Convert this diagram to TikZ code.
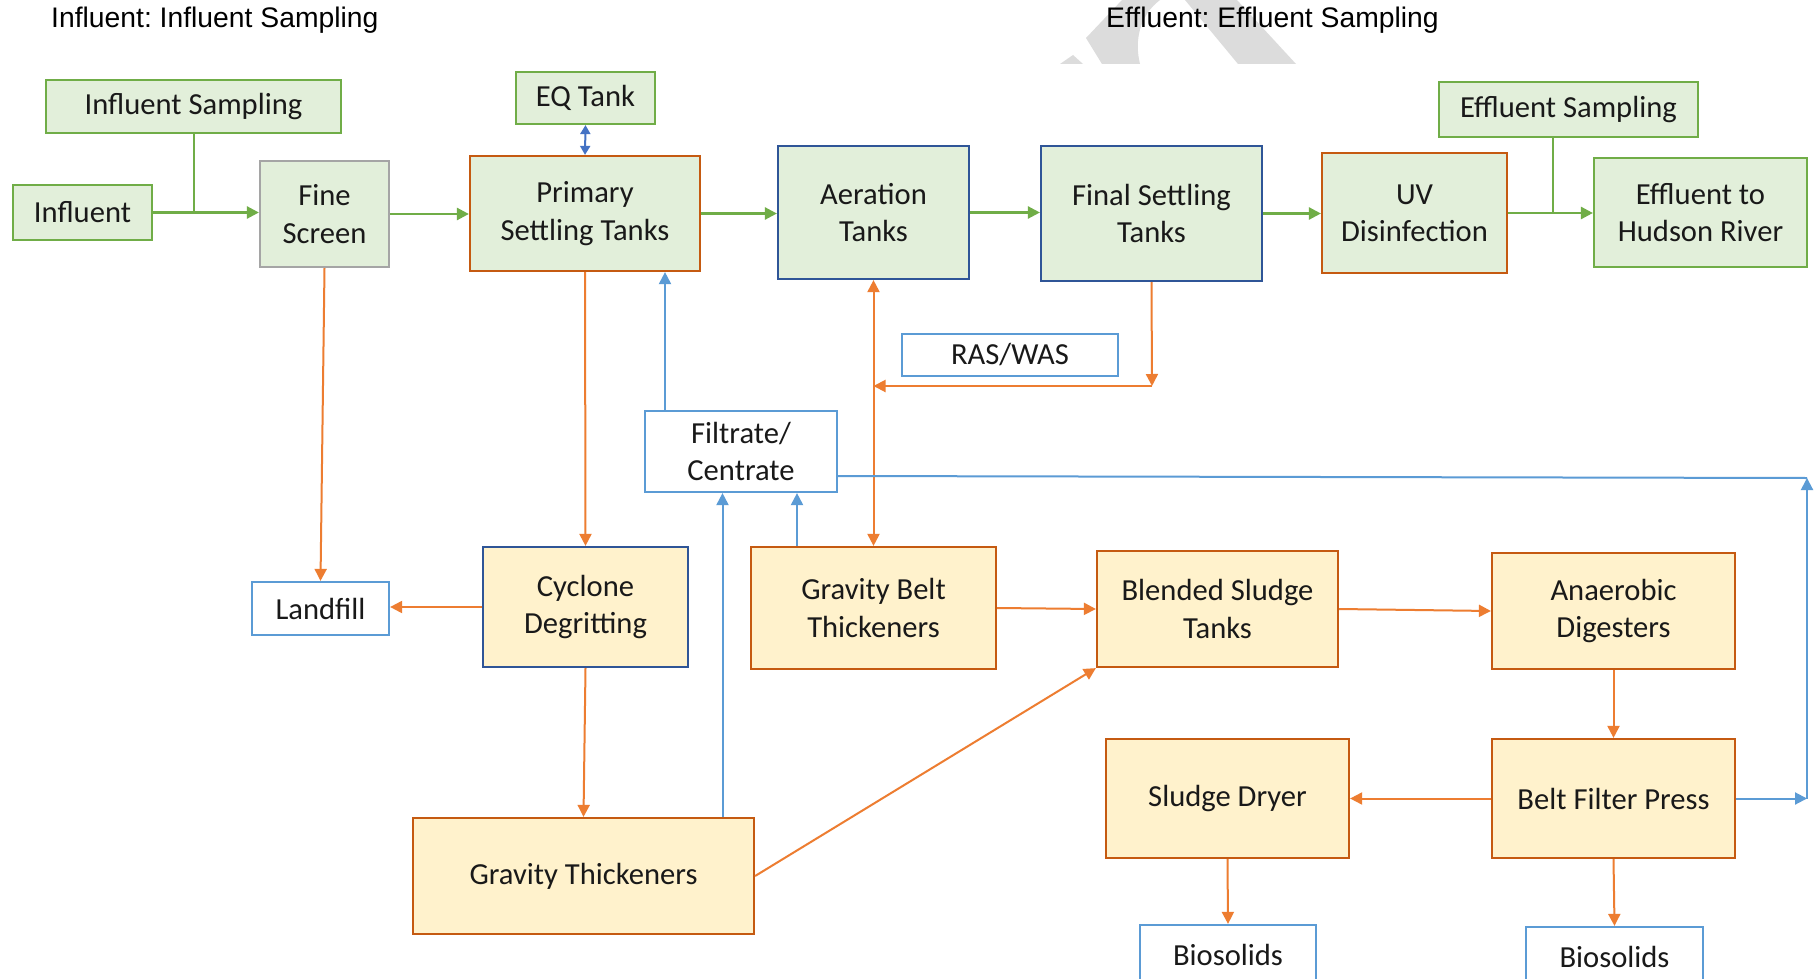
\documentclass[tikz,border=0pt]{standalone}
\usepackage{fontspec}
\setmainfont{Carlito}
\newfontfamily\titlefont{Liberation Sans}
\usetikzlibrary{arrows.meta}
\frenchspacing

\definecolor{boxgreen}{HTML}{E2EFDA}
\definecolor{linegreen}{HTML}{70AD47}
\definecolor{boxyellow}{HTML}{FFF2CC}
\definecolor{edgeorange}{HTML}{C55A11}
\definecolor{floworange}{HTML}{ED7D31}
\definecolor{edgeblue}{HTML}{2F5597}
\definecolor{flowblue}{HTML}{5B9BD5}
\definecolor{eqblue}{HTML}{4472C4}
\definecolor{screengray}{HTML}{A5A5A5}
\definecolor{markgray}{HTML}{DCDCDC}

\begin{document}
\begin{tikzpicture}[x=1pt, y=-1pt]
  % Define styles for boxes and flows
  \tikzset{
    plant box/.style={draw, line width=2.2pt, inner sep=0pt, align=center,
      text=black!90, font=\fontsize{30.6pt}{37.3pt}\selectfont},
    water box/.style={plant box, fill=boxgreen, draw=linegreen},
    sludge box/.style={plant box, fill=boxyellow, draw=edgeorange},
    side box/.style={plant box, fill=white, draw=flowblue},
    flow tip/.style={-{Triangle[length=12pt,width=12pt]}},
    both tips/.style={{Triangle[length=12pt,width=12pt]}-{Triangle[length=12pt,width=12pt]}},
    green flow/.style={draw=linegreen, line width=2.5pt, flow tip},
    green line/.style={draw=linegreen, line width=2pt},
    orange flow/.style={draw=floworange, line width=2pt, flow tip},
    blue flow/.style={draw=flowblue, line width=2pt, flow tip},
    title text/.style={anchor=base west, inner sep=0pt,
      font=\titlefont\fontsize{28.3pt}{34pt}\selectfont}
  }
  \useasboundingbox (0,0) rectangle (1820,979);
  \fill[white] (0,0) rectangle (1820,979);
  \clip (0,0) rectangle (1820,979);

  % Watermark
  \fill[markgray] (1122,0) -- (1086,38) -- (1102,64) -- (1140,64)
    .. controls (1134,40) and (1140,15) .. (1160,0) -- cycle;
  \fill[markgray] (1185,0) -- (1237,0) -- (1296,64) -- (1238,64) -- cycle;
  \fill[markgray] (1060,64) -- (1073,55) -- (1083,64) -- cycle;

  % Titles
  \node[title text] (tin) at (51,28) {Influent: Influent Sampling};
  \node[title text] (tout) at (1106,28) {Effluent: Effluent Sampling};

  % Liquid train
  \node[water box, minimum width=295pt, minimum height=53pt] (insamp) at (193.5,106.5) {Influent Sampling};
  \node[water box, minimum width=139pt, minimum height=55pt] (influent) at (82.5,212.5) {Influent};
  \node[water box, draw=screengray, minimum width=129pt, minimum height=106pt] (screen) at (324.5,214) {Fine\\Screen};
  \node[water box, minimum width=139pt, minimum height=52pt] (eq) at (585.5,98) {EQ Tank};
  \node[water box, draw=edgeorange, minimum width=230pt, minimum height=115pt] (primary) at (585,213.5) {Primary\\Settling Tanks};
  \node[water box, draw=edgeblue, minimum width=191pt, minimum height=133pt] (aeration) at (873.5,212.5) {Aeration\\Tanks};
  \node[water box, draw=edgeblue, minimum width=221pt, minimum height=135pt] (final) at (1151.5,213.5) {Final Settling\\Tanks};
  \node[water box, draw=edgeorange, minimum width=185pt, minimum height=120pt] (uv) at (1414.5,213) {UV\\Disinfection};
  \node[water box, minimum width=259pt, minimum height=55pt] (effsamp) at (1568.5,109.5) {Effluent Sampling};
  \node[water box, minimum width=213pt, minimum height=109pt] (hudson) at (1700.5,212.5) {Effluent to\\Hudson River};

  % Side streams
  \node[side box, minimum width=216pt, minimum height=42pt] (raswas) at (1010,355) {RAS/WAS};
  \node[side box, minimum width=192pt, minimum height=81pt] (filtrate) at (741,451.5) {Filtrate/\\Centrate};
  \node[side box, minimum width=137pt, minimum height=53pt] (landfill) at (320.5,608.5) {Landfill};
  \node[side box, minimum width=176pt, minimum height=60pt] (bioa) at (1228,955) {Biosolids};
  \node[side box, minimum width=177pt, minimum height=60pt] (biob) at (1614.5,957) {Biosolids};

  % Solids train
  \node[sludge box, draw=edgeblue, minimum width=205pt, minimum height=120pt] (cyclone) at (585.5,607) {Cyclone\\Degritting};
  \node[sludge box, minimum width=245pt, minimum height=122pt] (gbt) at (873.5,608) {Gravity Belt\\Thickeners};
  \node[sludge box, minimum width=241pt, minimum height=116pt] (blended) at (1217.5,609) {Blended Sludge\\Tanks};
  \node[sludge box, minimum width=243pt, minimum height=116pt] (digesters) at (1613.5,611) {Anaerobic\\Digesters};
  \node[sludge box, minimum width=243pt, minimum height=119pt] (dryer) at (1227.5,798.5) {Sludge Dryer};
  \node[sludge box, minimum width=243pt, minimum height=119pt] (bfp) at (1613.5,798.5) {Belt Filter Press};
  \node[sludge box, minimum width=341pt, minimum height=116pt] (gt) at (583.5,876) {Gravity Thickeners};

  % Corner points
  \coordinate (ret) at (1152,386);
  \coordinate (fc) at (1807,478);
  \coordinate (bc) at (1807,798.5);

  % Green flows
  \draw[green flow] (influent.east) -- (influent.east -| screen.west);
  \draw[green line] (insamp.south) -- (insamp.south |- influent.east);
  \draw[green flow] (screen.east) -- (screen.east -| primary.west);
  \draw[green flow] (primary.east) -- (primary.east -| aeration.west);
  \draw[green flow] (aeration.east) -- (aeration.east -| final.west);
  \draw[green flow] (final.east) -- (final.east -| uv.west);
  \draw[green flow] (uv.east) -- (uv.east -| hudson.west);
  \draw[green line] ([xshift=-15.5pt]effsamp.south) -- ([xshift=-15.5pt]effsamp.south |- uv.east);
  \draw[draw=eqblue, line width=2pt, {Triangle[length=9pt,width=10pt]}-{Triangle[length=9pt,width=10pt]}]
    (eq.south) -- (primary.north);

  % Orange flows
  \draw[orange flow] (screen.south) -- (landfill.north);
  \draw[orange flow] (primary.south) -- (cyclone.north);
  \draw[orange flow, both tips] (aeration.south) -- (gbt.north);
  \draw[orange flow] (final.south) -- (ret);
  \draw[orange flow] (ret) -- (ret -| aeration.south);
  \draw[orange flow] (cyclone.west) -- (cyclone.west -| landfill.east);
  \draw[orange flow] (cyclone.south) -- (gt.north);
  \draw[orange flow] (gt.east) -- (blended.south west);
  \draw[orange flow] (gbt.east) -- (blended.west);
  \draw[orange flow] (blended.east) -- (digesters.west);
  \draw[orange flow] (digesters.south) -- (bfp.north);
  \draw[orange flow] (bfp.west) -- (dryer.east);
  \draw[orange flow] (dryer.south) -- (bioa.north);
  \draw[orange flow] (bfp.south) -- (biob.north);

  % Blue flows
  \draw[blue flow] ([xshift=-76pt]filtrate.north) -- ([xshift=-76pt]filtrate.north |- primary.south);
  \draw[blue flow] ([xshift=139pt]gt.north) -- ([xshift=139pt]gt.north |- filtrate.south);
  \draw[blue flow] ([xshift=-76.5pt]gbt.north) -- ([xshift=-76.5pt]gbt.north |- filtrate.south);
  \draw[blue flow, -] ([yshift=-24.5pt]filtrate.east) -- (fc);
  \draw[blue flow] (bfp.east) -- (bc);
  \draw[blue flow] (bc) -- (fc);
\end{tikzpicture}
\end{document}
